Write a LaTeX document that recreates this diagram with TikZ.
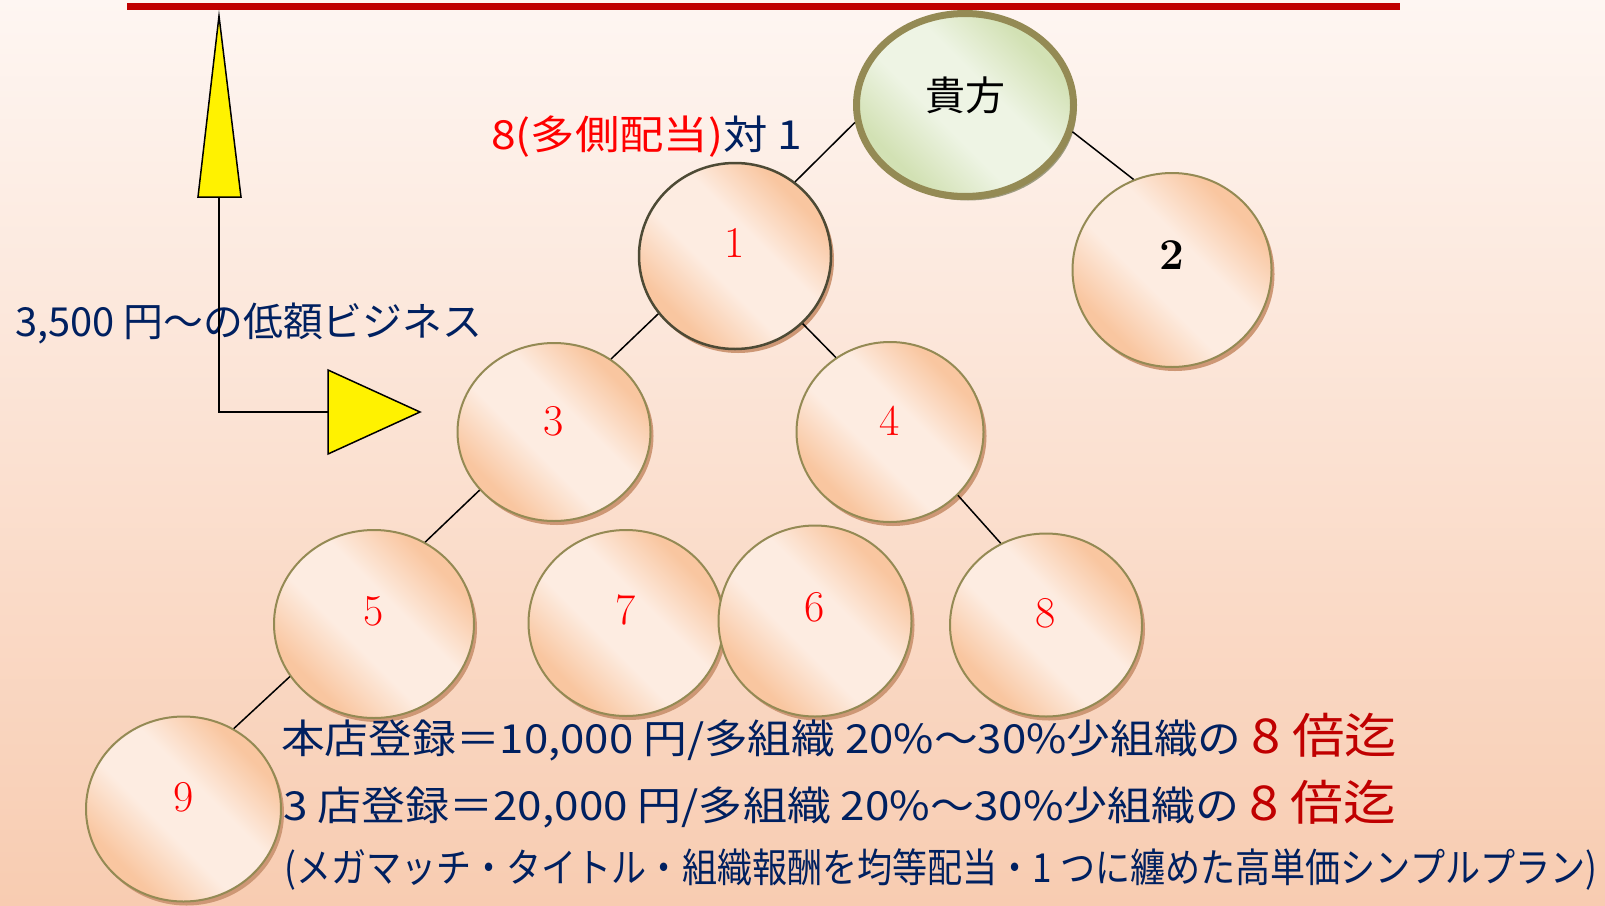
\documentclass[tikz,border=0pt]{standalone}
\usepackage{fontspec}
\usepackage{graphicx}
\usetikzlibrary{shapes.geometric,shadows}
\newfontfamily\jpfont{Noto Sans CJK JP}
\definecolor{navy}{HTML}{002060}
\definecolor{darkred}{HTML}{C00000}
\definecolor{ringolive}{HTML}{948A54}
\definecolor{ringdark}{HTML}{4D4A35}
\definecolor{peachdk}{HTML}{F9C6A0}
\definecolor{peachlt}{HTML}{FDECE1}
\definecolor{greendk}{HTML}{D2E1B4}
\definecolor{greenlt}{HTML}{EEF4E4}
\definecolor{ballshadow}{HTML}{CD9775}
\definecolor{topshadow}{HTML}{9E9C80}
\definecolor{bgtop}{HTML}{FEF6F2}
\definecolor{bgbot}{HTML}{F8CCB1}
\pgfdeclarehorizontalshading{peachball}{100bp}{color(0bp)=(peachdk); color(28bp)=(peachdk); color(43bp)=(peachlt); color(57bp)=(peachlt); color(72bp)=(peachdk); color(100bp)=(peachdk)}
\pgfdeclarehorizontalshading{greenball}{100bp}{color(0bp)=(greendk); color(28bp)=(greendk); color(43bp)=(greenlt); color(57bp)=(greenlt); color(72bp)=(greendk); color(100bp)=(greendk)}

\begin{document}
\begin{tikzpicture}[x=1pt,y=-1pt,
    ball/.style={ellipse, inner sep=0pt, draw=ringolive, line width=2pt, shade, shading=peachball, shading angle=45,
      drop shadow={shadow xshift=3pt, shadow yshift=-4pt, fill=ballshadow, opacity=1}},
    num/.style={text=red, font=\fontsize{44}{44}\selectfont, inner sep=0pt},
    jp/.style={font=\jpfont\fontsize{40}{44}\selectfont, text=navy, inner sep=0pt},
    link/.style={line width=1.5pt},
    tri/.style={fill=yellow, draw=black, line width=1.5pt}]
      \useasboundingbox (0,0) rectangle (1605,905);
      \fill[top color=bgtop, bottom color=bgbot] (0,0) rectangle (1605,905);

      \draw[darkred, line width=7pt] (127,6.5) -- (1400,6.5);

      % the person at the top
      \node[ellipse, inner sep=0pt, draw=ringolive, line width=7pt, shade, shading=greenball, shading angle=45,
        minimum width=217pt, minimum height=183pt,
        drop shadow={shadow xshift=3pt, shadow yshift=-4pt, fill=topshadow, opacity=1}] (top) at (965,105) {};
      \node[font=\jpfont\fontsize{40}{40}\selectfont, inner sep=0pt] (you) at ([yshift=10pt]top.center) {貴方};

      \node[ball, draw=ringdark, line width=2.5pt, minimum width=192pt, minimum height=186pt] (n1) at (735,256) {};
      \node[num] (t1) at ([yshift=13pt]n1.center) {1};
      \node[ball, minimum width=199pt, minimum height=194pt] (n2) at (1172,270) {};
      \node[num, text=black, font=\fontsize{44}{44}\selectfont\bfseries] (t2) at ([yshift=15pt]n2.center) {2};
      \node[ball, minimum width=193pt, minimum height=178pt] (n3) at (554,432) {};
      \node[num] (t3) at ([yshift=11pt]n3.center) {3};
      \node[ball, minimum width=187pt, minimum height=180pt] (n4) at (890,432) {};
      \node[num] (t4) at ([yshift=11pt]n4.center) {4};
      \node[ball, minimum width=200pt, minimum height=188pt] (n5) at (374,624) {};
      \node[num] (t5) at ([yshift=13pt]n5.center) {5};
      \node[ball, minimum width=195pt, minimum height=186pt] (n7) at (626,623) {};
      \node[num] (t7) at ([yshift=13pt]n7.center) {7};
      \node[ball, minimum width=193pt, minimum height=191pt] (n6) at (815,621) {};
      \node[num] (t6) at ([yshift=14pt]n6.center) {6};
      \node[ball, minimum width=192pt, minimum height=183pt] (n8) at (1046,625) {};
      \node[num] (t8) at ([yshift=12pt]n8.center) {8};
      \node[ball, minimum width=195pt, minimum height=185pt] (n9) at (183.5,809) {};
      \node[num] (t9) at ([yshift=12pt]n9.center) {9};

      \draw[link] (top.189) -- (n1.51);
      \draw[link] (top.346) -- (n2.113);
      \draw[link] (n1.217) -- (n3.52);
      \draw[link] (n1.315) -- (n4.126);
      \draw[link] (n3.218) -- (n5.58);
      \draw[link] (n4.317) -- (n8.119);
      \draw[link] (n5.212) -- (n9.58);

      % texts
      \node[jp, anchor=west] (ratio) at (491,137) {\resizebox{311pt}{\height}{\textcolor{red}{8(多側配当)}対 1}};
      \node[jp, anchor=west] (lowcost) at (15,324) {\resizebox{467pt}{\height}{3,500 円～の低額ビジネス}};

      % yellow arrows
      \coordinate (upbase) at (219,197);
      \coordinate (bend) at (219,412);
      \coordinate (rightbase) at (328,412);
      \draw[line width=2pt] (upbase) -- (bend) -- (rightbase);
      \draw[tri] (219,16) -- (241,197) -- (198,197) -- cycle;
      \draw[tri] (420,412) -- (328,370) -- (328,454) -- cycle;

      \node[jp, anchor=west] (plan1) at (281,737) {\resizebox{1116pt}{\height}{本店登録＝10,000 円/多組織 20\%～30\%少組織の {\color{darkred}\fontsize{48}{48}\selectfont 8 倍迄}}};
      \node[jp, anchor=west] (plan2) at (283,804) {\resizebox{1113pt}{\height}{3 店登録＝20,000 円/多組織 20\%～30\%少組織の {\color{darkred}\fontsize{48}{48}\selectfont 8 倍迄}}};
      \node[jp, anchor=west] (plan3) at (284,870) {\resizebox{1313pt}{\height}{(メガマッチ・タイトル・組織報酬を均等配当・1 つに纏めた高単価シンプルプラン)}};
    \end{tikzpicture}
\end{document}
